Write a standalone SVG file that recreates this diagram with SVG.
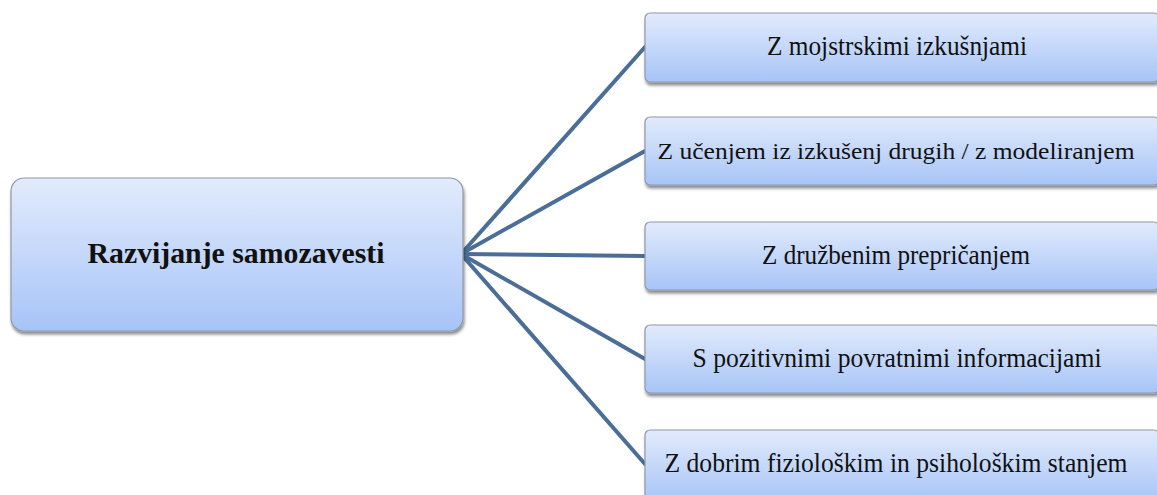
<svg xmlns="http://www.w3.org/2000/svg" width="1157" height="495" viewBox="0 0 1157 495">
<style>
.box{fill:url(#g);stroke:#8f98a8;stroke-width:1.2;filter:url(#sh)}
.lbl{font-size:27px;fill:#111;text-anchor:middle}
.main{font-size:29px;font-weight:bold;fill:#111;text-anchor:middle}
.con{stroke:#4a6e98;stroke-width:4;fill:none;stroke-linecap:round}
</style>
<defs>
<linearGradient id="g" x1="0" y1="0" x2="0" y2="1">
<stop offset="0" stop-color="#e2ebfc"/>
<stop offset="1" stop-color="#a7c4f7"/>
</linearGradient>
<filter id="sh" x="-5%" y="-10%" width="110%" height="130%">
<feDropShadow dx="1" dy="3" stdDeviation="1.5" flood-color="#000" flood-opacity="0.45"/>
</filter>
</defs>
<rect width="1157" height="495" fill="#fff"/>
<g id="connectors">
<line class="con" x1="461" y1="254" x2="645" y2="47"/>
<line class="con" x1="461" y1="254" x2="645" y2="151"/>
<line class="con" x1="461" y1="254" x2="645" y2="256"/>
<line class="con" x1="461" y1="254" x2="645" y2="359"/>
<line class="con" x1="461" y1="254" x2="645" y2="464"/>
</g>
<g font-family="'Times New Roman', 'Liberation Serif', 'DejaVu Serif', serif">
<g id="root">
<rect class="box" x="11" y="178" width="452" height="153" rx="13"/>
<text class="main" x="236" y="263" textLength="297" lengthAdjust="spacingAndGlyphs">Razvijanje samozavesti</text>
</g>
<g id="n1">
<rect class="box" x="645" y="13" width="514" height="69" rx="5"/>
<text class="lbl" x="897" y="55" textLength="260" lengthAdjust="spacingAndGlyphs">Z mojstrskimi  izkušnjami</text>
</g>
<g id="n2">
<rect class="box" x="645" y="117" width="514" height="68" rx="5"/>
<text class="lbl" x="896" y="159" style="font-size:24px" textLength="477" lengthAdjust="spacingAndGlyphs">Z učenjem  iz izkušenj  drugih  / z modeliranjem</text>
</g>
<g id="n3">
<rect class="box" x="645" y="222" width="514" height="68" rx="5"/>
<text class="lbl" x="896" y="264" textLength="268" lengthAdjust="spacingAndGlyphs">Z družbenim  prepričanjem</text>
</g>
<g id="n4">
<rect class="box" x="645" y="325" width="514" height="68" rx="5"/>
<text class="lbl" x="897" y="367" textLength="409" lengthAdjust="spacingAndGlyphs">S pozitivnimi  povratnimi  informacijami</text>
</g>
<g id="n5">
<rect class="box" x="645" y="430" width="514" height="72" rx="5"/>
<text class="lbl" x="896" y="472" textLength="463" lengthAdjust="spacingAndGlyphs">Z dobrim  fiziološkim  in psihološkim  stanjem</text>
</g>
</g>
</svg>
